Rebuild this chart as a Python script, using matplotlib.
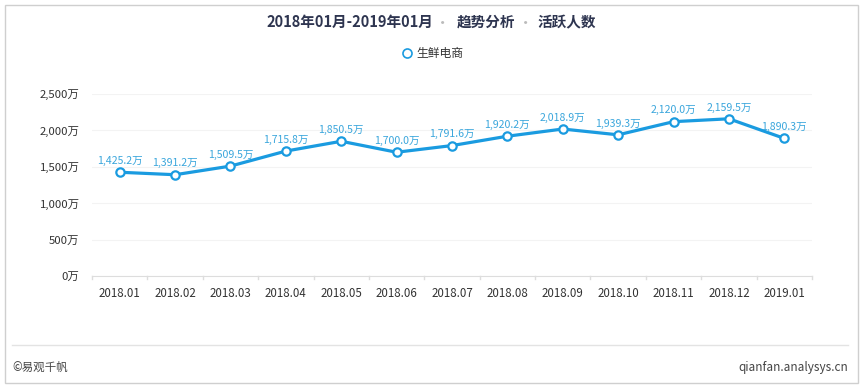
import matplotlib
matplotlib.use("Agg")
import matplotlib.pyplot as plt
from matplotlib.patches import Rectangle
from matplotlib.lines import Line2D

plt.rcParams['font.family'] = ['Noto Sans CJK SC', 'DejaVu Sans']

months = ["2018.01", "2018.02", "2018.03", "2018.04", "2018.05", "2018.06", "2018.07",
          "2018.08", "2018.09", "2018.10", "2018.11", "2018.12", "2019.01"]
values = [1425.2, 1391.2, 1509.5, 1715.8, 1850.5, 1700.0, 1791.6,
          1920.2, 2018.9, 1939.3, 2120.0, 2159.5, 1890.3]
yticks = [0, 500, 1000, 1500, 2000, 2500]
series_name = "生鲜电商"

line_color = "#1a9be0"
label_color = "#3aa6dc"

W, H = 866, 390
fig = plt.figure(figsize=(W / 100, H / 100), dpi=100)
fig.patch.set_facecolor("white")

ax = fig.add_axes([92 / W, 1 - 276 / H, (812 - 92) / W, (276 - 94) / H])
x = list(range(len(months)))
ax.plot(x, values, color=line_color, lw=2.3, marker="o", ms=6,
        mfc="white", mec=line_color, mew=1.6, zorder=3, clip_on=False)
for xi, v in zip(x, values):
    ax.annotate(f"{v:,.1f}万", (xi, v), xytext=(0, 4.5), textcoords="offset points",
                ha="center", va="bottom", fontsize=7.6, color=label_color)

ax.set_xlim(-0.5, len(months) - 0.5)
ax.set_ylim(0, 2500)
ax.set_yticks(yticks)
ax.set_yticklabels([f"{t:,}万" for t in yticks], fontsize=8.2, color="#333333")
ax.set_xticks(x)
ax.set_xticklabels(months, fontsize=8.3, color="#333333")
ax.tick_params(axis="x", length=0, pad=8)
ax.tick_params(axis="y", length=0, pad=9)
for xb in [i - 0.5 for i in range(len(months) + 1)]:
    ax.plot([xb, xb], [0, -45], color="#dddddd", lw=1, clip_on=False, zorder=1)
ax.grid(axis="y", color="#f3f3f3", lw=0.8)
ax.set_axisbelow(True)
for s in ["top", "right", "left"]:
    ax.spines[s].set_visible(False)
ax.spines["bottom"].set_color("#dddddd")

# outer border
fig.add_artist(Rectangle((5 / W, 1 - 383 / H), (858 - 5) / W, (383 - 5) / H,
                         transform=fig.transFigure, fill=False, ec="#cfcfcf", lw=1))
# title
title_color = "#2e3550"
fig.text(350 / W, 1 - 22 / H, "2018年01月-2019年01月", ha="center", va="center",
         fontsize=10.5, fontweight="bold", color=title_color)
fig.text(443 / W, 1 - 23 / H, "·", ha="center", va="center", fontsize=11, color="#bbbbbb")
fig.text(486 / W, 1 - 22 / H, "趋势分析", ha="center", va="center",
         fontsize=10.5, fontweight="bold", color=title_color)
fig.text(526 / W, 1 - 23 / H, "·", ha="center", va="center", fontsize=11, color="#bbbbbb")
fig.text(567 / W, 1 - 22 / H, "活跃人数", ha="center", va="center",
         fontsize=10.5, fontweight="bold", color=title_color)
# legend
fig.add_artist(Line2D([407 / W], [1 - 53 / H], marker="o", ms=6.5, mfc="white",
                      mec=line_color, mew=1.2, transform=fig.transFigure))
fig.text(416 / W, 1 - 53 / H, series_name, ha="left", va="center", fontsize=8.5, color="#333333")
# footer
fig.add_artist(Line2D([12 / W, 848 / W], [1 - 345 / H, 1 - 345 / H], color="#e3e3e3",
                      lw=1, transform=fig.transFigure))
fig.text(12 / W, 1 - 367 / H, "©易观千帆", ha="left", va="center", fontsize=8.3, color="#444444")
fig.text(848 / W, 1 - 367 / H, "qianfan.analysys.cn", ha="right", va="center",
         fontsize=8.5, color="#444444")

fig.savefig("out.png", dpi=100)
